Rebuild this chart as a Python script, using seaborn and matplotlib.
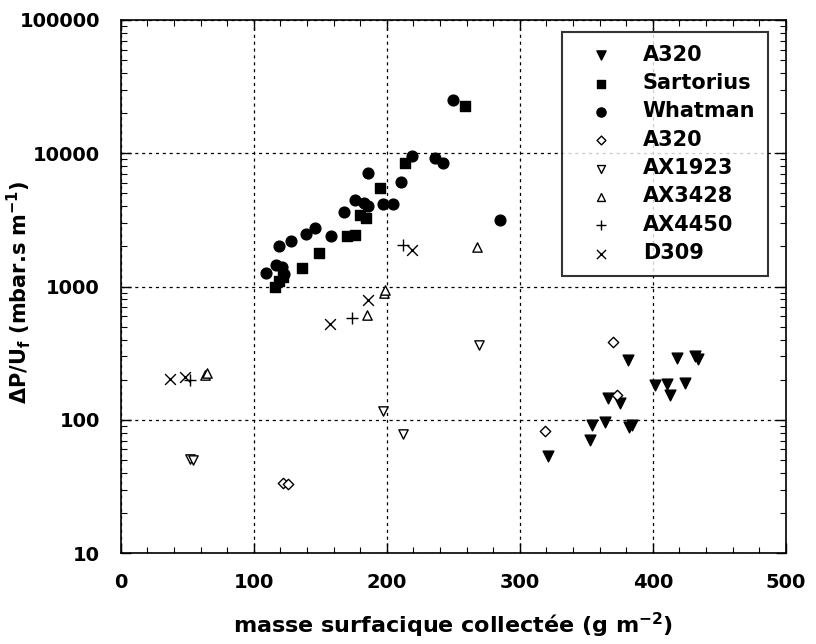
import matplotlib
matplotlib.use("Agg")
import matplotlib.pyplot as plt
from matplotlib.ticker import MultipleLocator, LogLocator, FuncFormatter, NullFormatter
import seaborn as sns
import numpy as np


# --------------------------------------------------------------------------------------------------
# données (x en g/m2, y en mbar.s/m)

a320_f_x = [321, 353, 354, 364, 366, 375, 381, 382, 384, 402, 411, 413, 418, 424, 432, 434]
a320_f_y = [54, 70.5, 91, 97, 147, 134, 281, 88, 92, 182, 185, 155, 289, 188, 300, 285]

sartorius_x = [116, 119, 122, 136, 149, 170, 176, 180, 184, 195, 214, 259]
sartorius_y = [995, 1100, 1180, 1370, 1800, 2400, 2450, 3440, 3250, 5460, 8400, 22600]

whatman_x = [109, 117, 119, 121, 123, 128, 139, 146, 158, 168, 176, 183, 186, 186,
             197, 205, 211, 219, 236, 242, 250, 285]
whatman_y = [1270, 1450, 2020, 1400, 1250, 2190, 2460, 2760, 2400, 3640, 4470, 4200, 4000, 7100,
             4140, 4140, 6080, 9600, 9170, 8400, 25100, 3160]

a320_o_x = [122, 126, 319, 370, 373]
a320_o_y = [33.5, 33, 83, 385, 155]

ax1923_x = [52, 54, 197, 212, 269]
ax1923_y = [51, 50, 117, 79, 364]

ax3428_x = [63, 65, 185, 198, 199, 268]
ax3428_y = [218, 225, 611, 900, 950, 1990]

ax4450_x = [52, 174, 212]
ax4450_y = [198, 577, 2050]

d309_x = [37, 48, 157, 186, 219]
d309_y = [202, 208, 520, 790, 1880]


# --------------------------------------------------------------------------------------------------

sns.set_style("ticks")
plt.rcParams["font.family"] = ["DejaVu Sans"]
plt.rcParams["font.weight"] = "bold"
plt.rcParams["mathtext.fontset"] = "dejavusans"
plt.rcParams["mathtext.default"] = "bf"
for key in ["text.color", "axes.labelcolor", "xtick.color", "ytick.color", "axes.edgecolor"]:
    plt.rcParams[key] = "black"

fig = plt.figure(figsize=(8.16, 6.44), dpi=100)
ax = fig.add_axes([0.148, 0.141, 0.815, 0.828])

series = [
    (a320_f_x, a320_f_y, "A320", "v", "black", 60),
    (sartorius_x, sartorius_y, "Sartorius", "s", "black", 55),
    (whatman_x, whatman_y, "Whatman", "o", "black", 60),
    (a320_o_x, a320_o_y, "A320", "D", "white", 28),
    (ax1923_x, ax1923_y, "AX1923", "v", "white", 45),
    (ax3428_x, ax3428_y, "AX3428", "^", "white", 45),
]

for xs, ys, label, marker, face, size in series:
    sns.scatterplot(x=xs, y=ys, ax=ax, marker=marker, s=size, facecolor=face,
                    edgecolor="black", linewidth=1, label=label, zorder=3)

sns.scatterplot(x=ax4450_x, y=ax4450_y, ax=ax, marker="+", s=70, color="black",
                linewidth=1, label="AX4450", zorder=3)
sns.scatterplot(x=d309_x, y=d309_y, ax=ax, marker="x", s=60, color="black",
                linewidth=1, label="D309", zorder=3)

ax.set_yscale("log")
ax.set_xlim(0, 500)
ax.set_ylim(10, 100000)

ax.xaxis.set_major_locator(MultipleLocator(100))
ax.xaxis.set_minor_locator(MultipleLocator(20))
ax.yaxis.set_major_locator(LogLocator(base=10))
ax.yaxis.set_minor_locator(LogLocator(base=10, subs=np.arange(2, 10)))
ax.yaxis.set_major_formatter(FuncFormatter(lambda v, _: f"{int(round(v))}"))
ax.yaxis.set_minor_formatter(NullFormatter())

ax.tick_params(which="both", direction="in", top=True, right=True, labelsize=14)
ax.tick_params(which="major", length=7, width=1)
ax.tick_params(axis="y", which="major", pad=15)
ax.tick_params(axis="x", which="major", pad=14)
ax.tick_params(which="minor", length=4, width=0.8)

ax.grid(which="major", linestyle=(0, (2.5, 3)), color="black", linewidth=0.9)
for sp in ax.spines.values():
    sp.set_color("black")
    sp.set_linewidth(1.2)

ax.set_xlabel("masse surfacique collectée (g m$^{-2}$)", fontsize=16, fontweight="bold", labelpad=14)
ax.set_ylabel("ΔP/U$_f$ (mbar.s m$^{-1}$)", fontsize=15, fontweight="bold")
ax.yaxis.set_label_coords(-0.132, 0.49)

leg = ax.legend(loc="upper right", bbox_to_anchor=(0.973, 0.977), borderaxespad=0,
                fontsize=15, frameon=True, fancybox=False, edgecolor="black",
                labelspacing=0.4, handlelength=2.6, handletextpad=0.7, borderpad=0.6,
                markerscale=0.85)
leg.get_frame().set_linewidth(1.5)
leg.set_zorder(5)

plt.savefig("out.png", dpi=100)
plt.close()
